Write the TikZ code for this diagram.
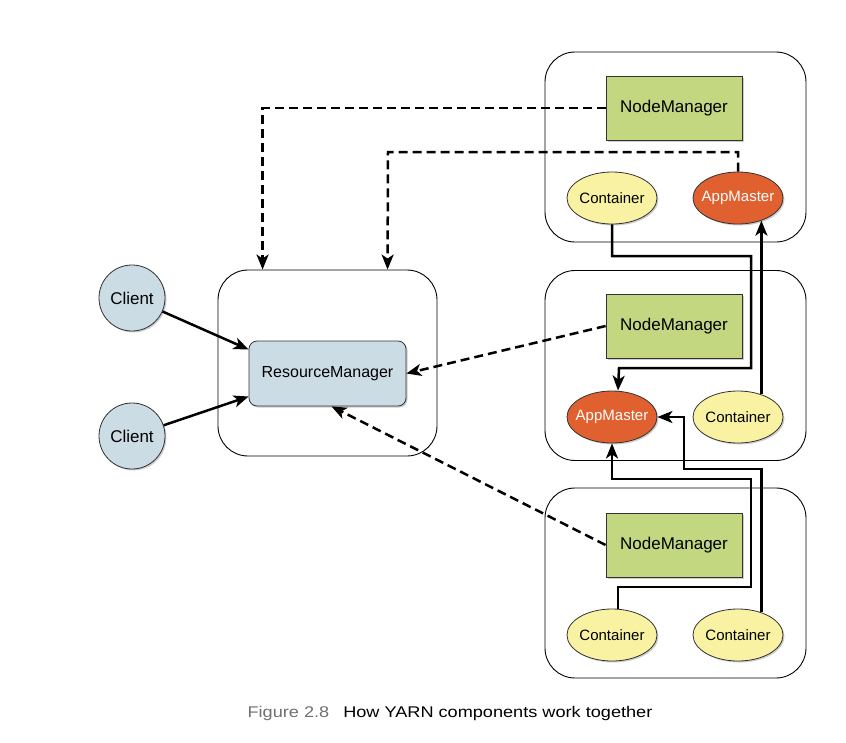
\documentclass[tikz,border=0pt]{standalone}
\usepackage{fontspec}
\setmainfont{Liberation Sans}
\newfontfamily\capfont[FakeStretch=1.17]{Liberation Sans}
\usetikzlibrary{arrows.meta,shapes.geometric,shadows}
\definecolor{nmgreen}{HTML}{C2D77F}
\definecolor{ctyellow}{HTML}{F9F2A2}
\definecolor{amorange}{HTML}{E0612F}
\definecolor{rmblue}{HTML}{CCDCE4}
\definecolor{capgray}{HTML}{707070}
\begin{document}
\begin{tikzpicture}[x=1pt,y=-1pt,
  host/.style={draw,line width=0.9pt,rounded corners=30pt,inner sep=0pt},
  shade/.style={drop shadow={shadow xshift=1.5pt,shadow yshift=-1.5pt,opacity=0.4}},
  nm/.style={draw=black!80,line width=0.8pt,fill=nmgreen,shade,minimum width=136pt,minimum height=64pt,
    font=\fontsize{17}{20}\selectfont},
  cont/.style={ellipse,draw=black!80,line width=0.8pt,fill=ctyellow,shade,minimum width=90pt,minimum height=52pt,
    inner xsep=-10pt,inner ysep=0pt,font=\fontsize{15}{18}\selectfont},
  am/.style={cont,fill=amorange,text=white},
  client/.style={circle,draw=black!80,line width=0.8pt,fill=rmblue,shade,minimum size=66pt,inner sep=0pt,
    font=\fontsize{17}{20}\selectfont},
  link/.style={line width=2.5pt,-{Stealth[length=15pt,width=12pt,inset=4pt]}},
  dlink/.style={link,dash pattern=on 9pt off 5pt}]
\useasboundingbox (0,0) rectangle (846,742);
% machines
\node[host,minimum width=261pt,minimum height=190pt] (hostA) at (675.5,147) {};
\node[host,minimum width=261pt,minimum height=190pt] (hostB) at (675.5,365.5) {};
\node[host,minimum width=261pt,minimum height=190pt] (hostC) at (675.5,583) {};
\node[host,minimum width=219pt,minimum height=186pt] (hostRM) at (327.5,363) {};
% components
\node[draw=black!80,line width=0.8pt,fill=rmblue,rounded corners=8pt,shade,minimum width=157pt,minimum height=65pt,
  font=\fontsize{16}{19}\selectfont] (rm) at (327.5,373.5) {ResourceManager};
\node[client] (cl1) at (132,298) {Client};
\node[client] (cl2) at (132,436) {Client};
\node[nm] (nmA) at (674,108) {NodeManager};
\node[nm] (nmB) at (674,326) {NodeManager};
\node[nm] (nmC) at (674,545) {NodeManager};
\node[cont] (ctA) at (612,198) {Container};
\node[am] (amA) at (738,198) {AppMaster};
\node[am] (amB) at (612,417) {AppMaster};
\node[cont] (ctB) at (738,417) {Container};
\node[cont] (ctC1) at (612,635) {Container};
\node[cont] (ctC2) at (738,635) {Container};
% clients
\draw[link] (cl1) -- ([yshift=24pt]rm.west);
\draw[link] (cl2) -- ([yshift=-23pt]rm.west);
% heartbeats
\draw[dlink] (nmA.west) -| ([xshift=45pt]hostRM.north west);
\draw[dlink] (amA.north) |- (388,152) -- ([xshift=170pt]hostRM.north west);
\draw[dlink] (nmB.west) -- (rm.east);
\draw[dlink] (nmC.west) -- ([xshift=4pt]rm.south);
% containers to app masters
\draw[link] (ctA.south) |- (751,256) |- (619,368) -- ([xshift=6pt]amB.north);
\draw[link] (ctB.44) -- (amA.-44);
\draw[link] ([xshift=6pt]ctC1.north) |- (751,587) |- (612,479) -- (amB.south);
\draw[link] (ctC2.44) |- (684,469) |- (amB.east);
% caption
\node (cap) at (450,713) {\capfont\fontsize{15.5}{18}\selectfont
  \textcolor{capgray}{Figure 2.8}\hspace{14pt}How YARN components work together};
\end{tikzpicture}
\end{document}
